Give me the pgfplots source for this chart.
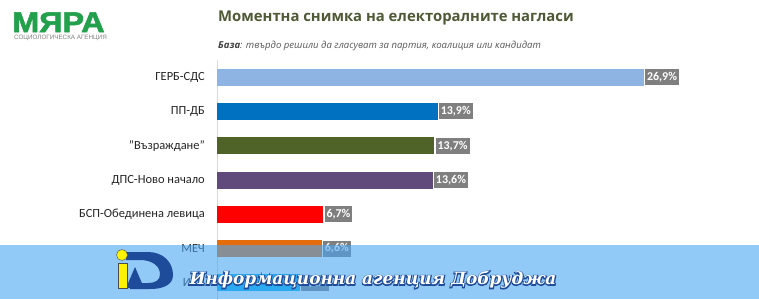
\documentclass[border=0pt]{standalone}
\usepackage{fontspec}
\usepackage{pgfplots}
\pgfplotsset{compat=1.18}
\setmainfont{Carlito}
\newfontfamily\titlefont{Open Sans}
\newfontfamily\logofont{Liberation Sans}[BoldFeatures={FakeBold=2}]
\newfontfamily\logosmall{Liberation Sans}
\newfontfamily\bannerfont{DejaVu Serif}
\definecolor{gerb}{HTML}{8DB4E2}
\definecolor{ppdb}{HTML}{0070C0}
\definecolor{vaz}{HTML}{4F6228}
\definecolor{dps}{HTML}{604A7B}
\definecolor{bsp}{HTML}{FF0000}
\definecolor{mech}{HTML}{E46C0A}
\definecolor{itn}{HTML}{00B0F0}
\definecolor{valgray}{HTML}{7F7F7F}
\definecolor{labelc}{HTML}{262626}
\definecolor{titlec}{HTML}{4E5A36}
\definecolor{logogreen}{HTML}{22A04B}
\definecolor{bannerblue}{RGB}{73,165,242}
\definecolor{darkblue}{HTML}{1F4C9A}
\begin{document}
\begin{tikzpicture}[x=1bp,y=1bp]
\useasboundingbox (0,0) rectangle (759,299);
\fill[white] (0,0) rectangle (759,299);
% logo
\node[anchor=base west, inner sep=0pt, xscale=1.14, text=logogreen, font=\logofont\bfseries\fontsize{28.5}{29}\selectfont] at (12,267) {МЯРА};
\node[anchor=base west, inner sep=0pt, text=gray, font=\logosmall\fontsize{6.3}{7}\selectfont] at (14,259.5) {СОЦИОЛОГИЧЕСКА АГЕНЦИЯ};
% title
\node[anchor=base west, inner sep=0pt, text=titlec, font=\titlefont\bfseries\fontsize{14.9}{15}\selectfont] at (218,278) {Моментна снимка на електоралните нагласи};
\node[anchor=base west, inner sep=0pt, text=black!65, font=\titlefont\itshape\fontsize{9.6}{10}\selectfont] at (218,251) {{\bfseries\color{black!75}База}: твърдо решили да гласуват за партия, коалиция или кандидат};
\begin{axis}[
  at={(217bp,-1bp)}, anchor=south west,
  scale only axis, width=476bp, height=240bp,
  xmin=0, xmax=30, ymin=-0.5, ymax=6.5, y dir=reverse,
  xbar, bar width=17bp,
  axis x line=none, axis y line=left,
  axis line style={-, draw=black!15},
  ytick={0,1,2,3,4,5,6},
  yticklabels={ГЕРБ-СДС,ПП-ДБ,"Възраждане",ДПС-Ново начало,БСП-Обединена левица,МЕЧ,ИТН},
  major tick length=0pt,
  yticklabel style={font=\fontsize{12.5}{14}\selectfont, text=labelc, inner sep=0pt, xshift=-12bp},
  point meta=explicit symbolic,
  nodes near coords,
  every node near coord/.append style={anchor=west, fill=valgray, text=white, font=\bfseries\fontsize{12}{12}\selectfont, inner sep=2bp, minimum height=16bp, xshift=1bp},
  clip=false,
]
\addplot[fill=gerb, draw=none, bar shift=0pt] coordinates {(26.9,0) [26,9\%]};
\addplot[fill=ppdb, draw=none, bar shift=0pt] coordinates {(13.9,1) [13,9\%]};
\addplot[fill=vaz, draw=none, bar shift=0pt] coordinates {(13.7,2) [13,7\%]};
\addplot[fill=dps, draw=none, bar shift=0pt] coordinates {(13.6,3) [13,6\%]};
\addplot[fill=bsp, draw=none, bar shift=0pt] coordinates {(6.7,4) [6,7\%]};
\addplot[fill=mech, draw=none, bar shift=0pt] coordinates {(6.6,5) [6,6\%]};
\addplot[fill=itn, draw=none, bar shift=0pt] coordinates {(5.2,6) [5,2\%]};
\end{axis}
% banner overlay
\fill[bannerblue, fill opacity=0.6] (0,0) rectangle (759,54);
% iAD logo (decorative)
\fill[darkblue] (126,47) -- (148,47) .. controls (163,47) and (173,37) .. (173,24)
  .. controls (173,14) and (163,10) .. (150,10) -- (130,10) -- (130,16) -- (148,16)
  .. controls (156,16) and (160,19) .. (160,25) .. controls (160,33) and (152,39) .. (140,39) -- (126,39) -- cycle;
\fill[darkblue] (126,11) -- (135,32) -- (144,11) -- cycle;
\fill[yellow, draw=black!70, line width=0.4bp] (118,11) rectangle (127,36);
\fill[yellow, draw=black!70, line width=0.4bp] (122,44) circle (5.5);
% banner text: outline layer (stroke only) then white fill on top
\node[inner sep=0pt, text=darkblue, font=\bannerfont\bfseries\itshape\fontsize{17}{17}\selectfont] at (373,19) {\special{pdf:literal direct 1 Tr 2 w 0.12 0.3 0.6 RG}Информационна агенция Добруджа\special{pdf:literal direct 0 Tr}};
\node[inner sep=0pt, text=white, font=\bannerfont\bfseries\itshape\fontsize{17}{17}\selectfont] at (373,19) {Информационна агенция Добруджа};
\end{tikzpicture}
\end{document}
